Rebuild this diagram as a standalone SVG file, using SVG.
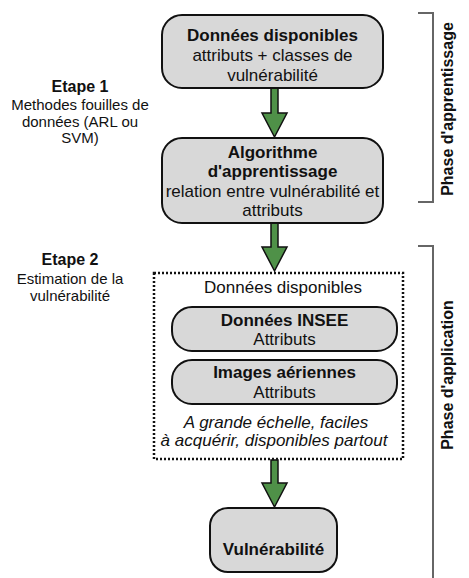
<svg xmlns="http://www.w3.org/2000/svg" width="469" height="578" viewBox="0 0 469 578">
<defs>
<style>
.box{fill:#d8d8d8;stroke:#111;stroke-width:2}
.t{font-family:"Liberation Sans",Arial,sans-serif;font-size:17px;fill:#111;text-anchor:middle}
.b{font-weight:bold}
.s{font-family:"Liberation Sans",Arial,sans-serif;font-size:15px;fill:#111;text-anchor:middle}
.e{font-family:"Liberation Sans",Arial,sans-serif;font-size:16px;font-weight:bold;fill:#111;text-anchor:middle}
.arr{fill:#4f9148;stroke:#111;stroke-width:1.5;stroke-linejoin:miter}
.br{fill:none;stroke:#666;stroke-width:2}
.ph{font-family:"Liberation Sans",Arial,sans-serif;font-size:16px;font-weight:bold;fill:#111;text-anchor:middle}
</style>
</defs>
<rect width="469" height="578" fill="#fff"/>
<g id="connectors">
<path class="arr" d="M271,88 H278 V113 H287 L274.5,137 L262,113 H271 Z"/>
<path class="arr" d="M271,223 H278 V247 H287 L274.5,271 L262,247 H271 Z"/>
<path class="arr" d="M271,460 H278 V483 H287 L274.5,507 L262,483 H271 Z"/>
</g>
<g id="node-donnees">
<rect class="box" x="162" y="15" width="221" height="73" rx="20"/>
<text class="t b" x="272.5" y="41">Données disponibles</text>
<text class="t" x="272.5" y="61">attributs + classes de</text>
<text class="t" x="272.5" y="81">vulnérabilité</text>
</g>
<g id="node-algorithme">
<rect class="box" x="162" y="138" width="221" height="85" rx="20"/>
<text class="t b" x="272.5" y="158">Algorithme</text>
<text class="t b" x="272.5" y="177">d'apprentissage</text>
<text class="t" x="272.5" y="197">relation entre vulnérabilité et</text>
<text class="t" x="272.5" y="216">attributs</text>
</g>
<g id="node-application">
<rect x="154" y="273" width="249" height="186" fill="none" stroke="#111" stroke-width="2.5" stroke-dasharray="2,2"/>
<text class="t" x="283" y="293">Données disponibles</text>
<g id="node-insee">
<rect class="box" x="172" y="307" width="225" height="44" rx="20"/>
<text class="t b" x="284.5" y="326">Données INSEE</text>
<text class="t" x="284.5" y="345">Attributs</text>
</g>
<g id="node-images">
<rect class="box" x="172" y="360" width="225" height="44" rx="20"/>
<text class="t b" x="284.5" y="378">Images aériennes</text>
<text class="t" x="284.5" y="398">Attributs</text>
</g>
<text class="t" font-style="italic" x="276" y="428">A grande échelle, faciles</text>
<text class="t" font-style="italic" x="274" y="446">à acquérir, disponibles partout</text>
</g>
<g id="node-vulnerabilite">
<rect class="box" x="210" y="508" width="127" height="64" rx="18"/>
<text class="t b" x="273.5" y="555">Vulnérabilité</text>
</g>
<g id="etape1">
<text class="e" x="80" y="92">Etape 1</text>
<text class="s" x="80" y="110">Methodes fouilles de</text>
<text class="s" x="80" y="127">données (ARL ou</text>
<text class="s" x="80" y="143">SVM)</text>
</g>
<g id="etape2">
<text class="e" x="70" y="265">Etape 2</text>
<text class="s" x="70" y="284">Estimation de la</text>
<text class="s" x="70" y="301">vulnérabilité</text>
</g>
<g id="phase-apprentissage">
<path class="br" d="M418,13 H433 V202 H418"/>
<text class="ph" transform="translate(453,109) rotate(-90)">Phase d'apprentissage</text>
</g>
<g id="phase-application">
<path class="br" d="M418,246 H433 V578"/>
<text class="ph" transform="translate(453,375) rotate(-90)">Phase d'application</text>
</g>
</svg>
